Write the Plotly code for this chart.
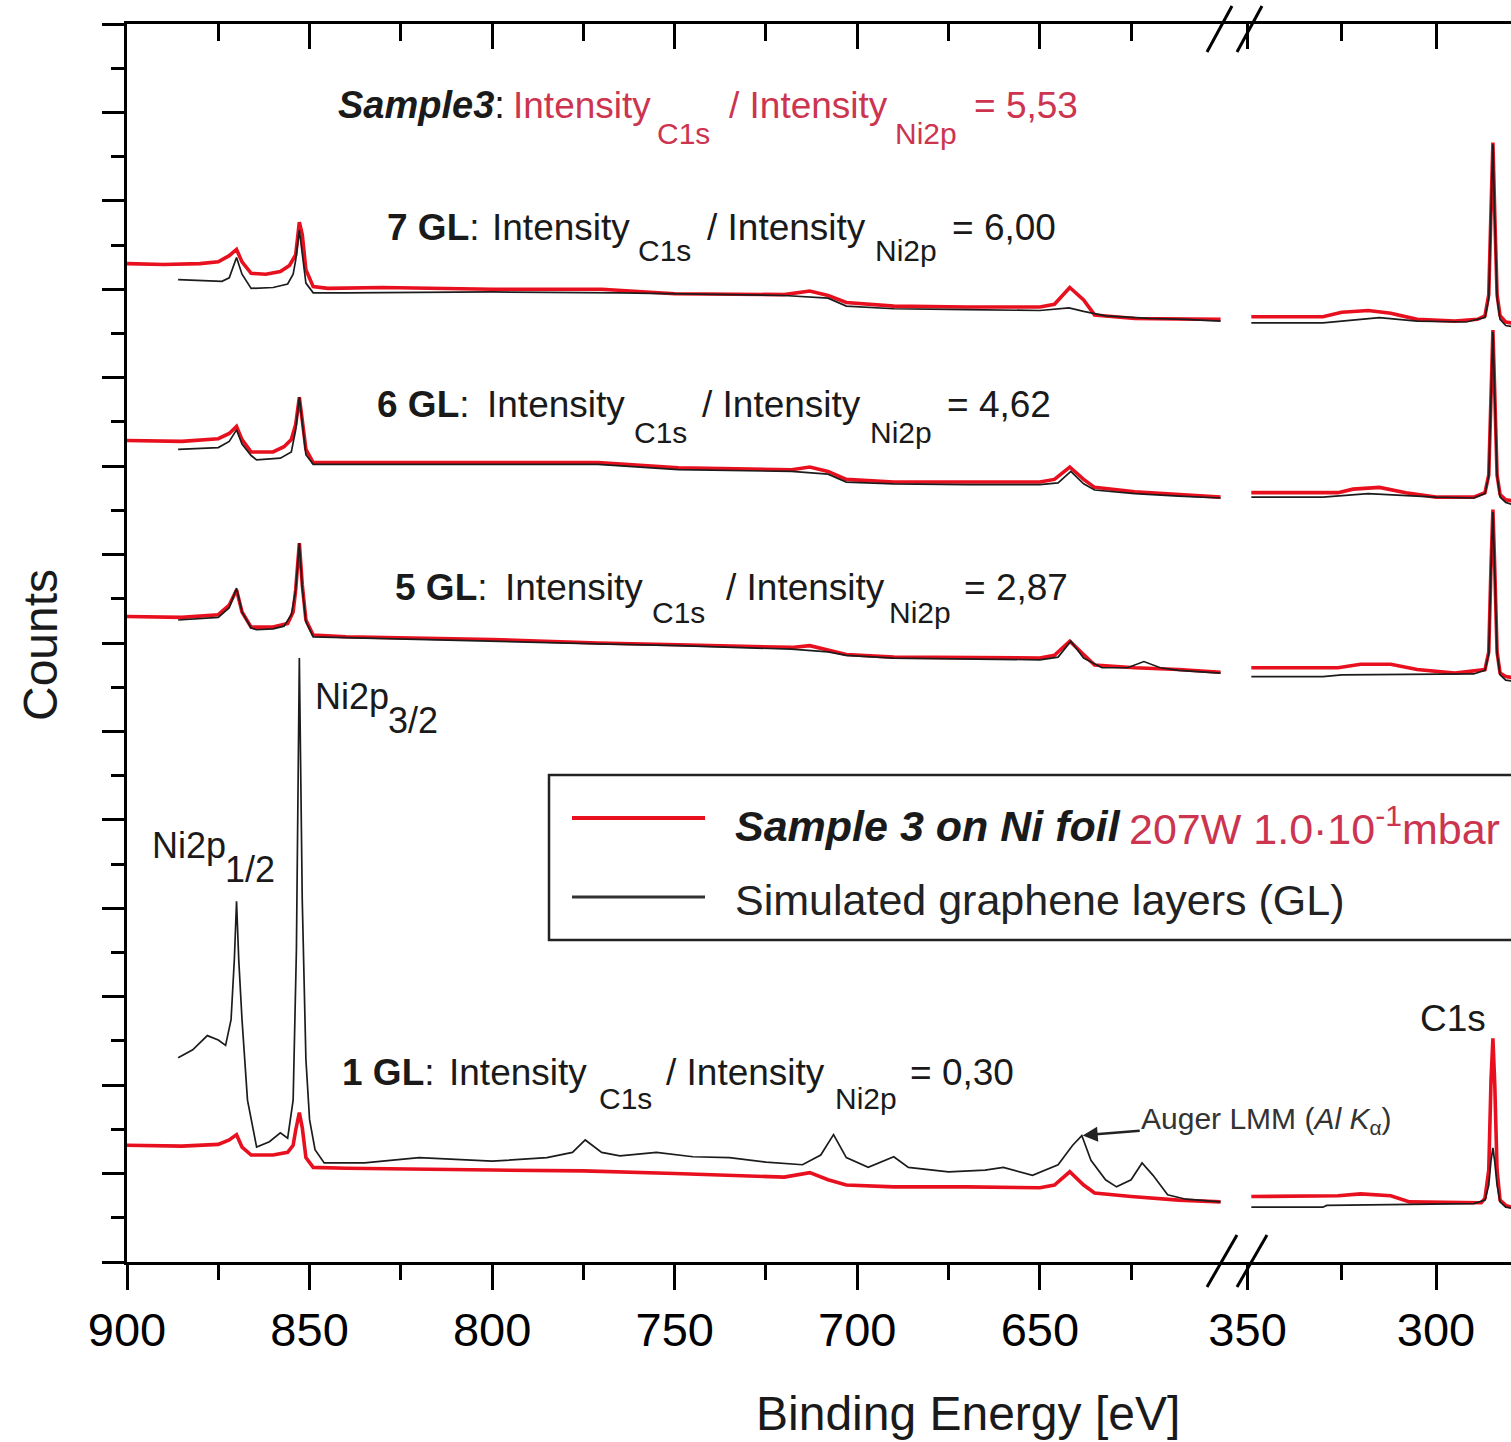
import plotly.graph_objects as go

# ---------------- spectra (binding energy in eV, counts in arb. units, stacked) ----------------
# Ni 2p / Auger window (900-600 eV)
e_7gl_red = [900, 890, 880, 875, 872, 870, 868.5, 866, 862, 858, 855.5, 853.8, 852.8, 852, 851, 849, 845, 830,
             800, 770, 750, 720, 713, 708, 703, 690, 670, 650, 646, 641.8, 638, 635, 624, 612, 600.5]
c_7gl_red = [11.29, 11.28, 11.29, 11.31, 11.38, 11.45, 11.31, 11.18, 11.17, 11.20, 11.27, 11.39, 11.76, 11.62,
             11.22, 11.03, 11.01, 11.02, 11.00, 11.00, 10.95, 10.94, 10.98, 10.93, 10.85, 10.81, 10.80, 10.80,
             10.83, 11.02, 10.88, 10.71, 10.67, 10.66, 10.66]
e_7gl_sim = [886, 880, 874, 872, 870, 868.5, 866, 860, 856, 854.5, 853.8, 852.8, 852, 851, 849, 840, 800, 765,
             720, 708, 703, 690, 670, 650, 642, 638, 632, 620, 610, 600.5]
c_7gl_sim = [11.11, 11.10, 11.09, 11.13, 11.36, 11.17, 11.01, 11.02, 11.06, 11.17, 11.33, 11.67, 11.39, 11.07,
             10.96, 10.96, 10.97, 10.96, 10.93, 10.90, 10.81, 10.78, 10.77, 10.76, 10.79, 10.75, 10.70, 10.67,
             10.66, 10.64]

e_6gl_red = [900, 885, 875, 872, 870, 868.5, 866, 860, 857, 855, 853.8, 852.8, 852, 851, 849, 840, 800, 771,
             749, 718, 713, 708, 703, 690, 670, 650, 646, 641.8, 638, 635, 624, 612, 600.5]
c_6gl_red = [9.29, 9.28, 9.31, 9.37, 9.45, 9.30, 9.16, 9.16, 9.22, 9.30, 9.47, 9.78, 9.52, 9.19, 9.04, 9.04,
             9.04, 9.04, 8.98, 8.96, 8.99, 8.94, 8.85, 8.82, 8.82, 8.82, 8.85, 8.99, 8.85, 8.76, 8.71, 8.68, 8.65]
e_6gl_sim = [886, 875, 872, 870, 868.5, 866, 864.5, 860, 858, 855, 853.8, 852.8, 852, 851, 849, 840, 800, 771,
             749, 718, 708, 703, 690, 670, 650, 645, 641.5, 638, 635, 624, 612, 600.5]
c_6gl_sim = [9.19, 9.21, 9.28, 9.41, 9.25, 9.12, 9.07, 9.08, 9.09, 9.16, 9.41, 9.78, 9.47, 9.13, 9.02, 9.02,
             9.02, 9.02, 8.96, 8.94, 8.91, 8.82, 8.80, 8.79, 8.79, 8.81, 8.94, 8.80, 8.73, 8.69, 8.66, 8.64]

e_5gl_red = [900, 885, 875, 872, 870, 868.5, 866, 860, 856, 854.5, 853.8, 852.8, 852, 851, 849, 840, 800, 771,
             749, 718, 713, 708, 703, 690, 670, 650, 646, 641.8, 638, 635, 624, 612, 600.5]
c_5gl_red = [7.30, 7.29, 7.32, 7.43, 7.60, 7.35, 7.18, 7.18, 7.22, 7.35, 7.60, 8.13, 7.66, 7.26, 7.09, 7.07,
             7.04, 7.00, 6.98, 6.95, 6.97, 6.92, 6.87, 6.84, 6.83, 6.83, 6.86, 7.02, 6.87, 6.75, 6.72, 6.70, 6.67]
e_5gl_sim = [886, 875, 872, 870, 868.5, 866, 864.5, 860, 857, 855, 853.8, 852.8, 852, 851, 849, 840, 800, 771,
             749, 718, 708, 703, 690, 670, 650, 645, 641.5, 638, 633, 626, 621.5, 617, 612, 600.5]
c_5gl_sim = [7.26, 7.29, 7.40, 7.62, 7.35, 7.17, 7.15, 7.16, 7.19, 7.32, 7.60, 8.13, 7.62, 7.24, 7.07, 7.06,
             7.02, 6.99, 6.97, 6.93, 6.90, 6.86, 6.83, 6.82, 6.81, 6.84, 7.02, 6.83, 6.72, 6.72, 6.79, 6.72,
             6.69, 6.66]

e_1gl_red = [900, 885, 875, 872, 870, 868.5, 866, 860, 856, 854.5, 853.8, 852.8, 852, 851, 849, 840, 800, 775,
             750, 720, 713, 708, 703, 690, 670, 650, 646, 641.8, 638, 635, 625, 612, 600.5]
c_1gl_red = [1.32, 1.31, 1.33, 1.38, 1.44, 1.30, 1.21, 1.21, 1.24, 1.32, 1.49, 1.69, 1.52, 1.18, 1.07, 1.06,
             1.04, 1.03, 1.00, 0.96, 1.01, 0.93, 0.87, 0.85, 0.85, 0.84, 0.87, 1.02, 0.87, 0.78, 0.74, 0.70, 0.68]
e_1gl_sim = [886, 882, 878, 875, 873, 871.5, 870.6, 870, 869.4, 868.5, 867, 864.5, 861, 858, 856, 854.5, 853.6,
             852.8, 852, 851, 850, 848.5, 846, 835, 820, 800, 785, 778, 774.5, 770, 765, 755, 745, 735, 725,
             715, 710, 706.5, 703, 697, 690, 686, 675, 665, 660, 652, 645, 641, 638.5, 636, 632, 629, 625, 622,
             619, 615, 610, 600.5]
c_1gl_sim = [2.31, 2.40, 2.56, 2.51, 2.45, 2.74, 3.42, 4.08, 3.42, 2.74, 1.83, 1.30, 1.36, 1.46, 1.40, 1.83,
             3.53, 6.83, 4.09, 2.29, 1.61, 1.27, 1.12, 1.12, 1.18, 1.14, 1.18, 1.24, 1.38, 1.24, 1.20, 1.24,
             1.19, 1.18, 1.13, 1.10, 1.21, 1.44, 1.18, 1.07, 1.19, 1.07, 1.02, 1.04, 1.07, 0.98, 1.10, 1.32,
             1.43, 1.15, 0.93, 0.85, 0.93, 1.12, 0.98, 0.76, 0.71, 0.68]

# C 1s window (350-280 eV)
e_c_7gl_red = [349, 330, 325, 318, 312, 305, 295, 289, 287, 286, 285.4, 284.9, 284.4, 283.8, 283, 281.5, 280]
c_c_7gl_red = [10.69, 10.69, 10.74, 10.76, 10.73, 10.66, 10.64, 10.66, 10.70, 10.94, 11.90, 12.66, 11.84,
               10.94, 10.70, 10.63, 10.62]
e_c_7gl_sim = [349, 330, 325, 315, 305, 292, 287, 286, 285.4, 284.9, 284.4, 283.8, 283, 281.5, 280]
c_c_7gl_sim = [10.62, 10.62, 10.64, 10.68, 10.64, 10.63, 10.68, 10.90, 11.88, 12.64, 11.81, 10.90, 10.66,
               10.59, 10.58]

e_c_6gl_red = [349, 326, 322, 315, 308, 300, 290, 287, 286, 285.4, 284.9, 284.4, 283.8, 283, 281.5, 280]
c_c_6gl_red = [8.70, 8.70, 8.74, 8.76, 8.70, 8.65, 8.65, 8.70, 8.90, 9.86, 10.54, 9.81, 8.90, 8.68, 8.62, 8.61]
e_c_6gl_sim = [349, 330, 318, 300, 290, 287, 286, 285.4, 284.9, 284.4, 283.8, 283, 281.5, 280]
c_c_6gl_sim = [8.65, 8.65, 8.69, 8.65, 8.64, 8.69, 8.89, 9.84, 10.52, 9.78, 8.89, 8.65, 8.59, 8.57]

e_c_5gl_red = [349, 326, 320, 312, 305, 295, 287, 286, 285.4, 284.9, 284.4, 283.8, 283, 281.5, 280]
c_c_5gl_red = [6.72, 6.72, 6.76, 6.76, 6.70, 6.66, 6.70, 6.90, 7.88, 8.51, 7.83, 6.90, 6.66, 6.62, 6.61]
e_c_5gl_sim = [349, 330, 325, 300, 290, 287, 286, 285.4, 284.9, 284.4, 283.8, 283, 281.5, 280]
c_c_5gl_sim = [6.62, 6.62, 6.64, 6.65, 6.65, 6.69, 6.88, 7.86, 8.48, 7.81, 6.88, 6.64, 6.58, 6.57]

e_c_1gl_red = [349, 326, 320, 312, 307, 295, 288, 287, 286, 285.4, 284.9, 284.4, 283.8, 283, 281.5, 280]
c_c_1gl_red = [0.74, 0.75, 0.77, 0.75, 0.68, 0.67, 0.67, 0.72, 1.04, 2.06, 2.53, 2.00, 1.04, 0.70, 0.64, 0.62]
e_c_1gl_sim = [349, 330, 329, 300, 290, 287, 286, 285.4, 284.9, 284.4, 283.8, 283, 281.5, 280]
c_c_1gl_sim = [0.62, 0.62, 0.64, 0.66, 0.66, 0.70, 0.87, 1.15, 1.29, 1.13, 0.87, 0.68, 0.62, 0.61]

# axis ticks
ticks_ni = [900, 850, 800, 750, 700, 650]
minor_ni = [875, 825, 775, 725, 675, 625]
ticks_c = [350, 300]
minor_c = [325]

# ratio annotations
ratio_labels = ["Sample3", "7 GL", "6 GL", "5 GL", "1 GL"]
ratio_values = ["5,53", "6,00", "4,62", "2,87", "0,30"]

# Auger LMM peak of the 1 GL simulation (arrow target)
auger_e, auger_c = 638.8, 1.43

# ---------------- styling ----------------
FONT = "Liberation Sans, Arial, sans-serif"
RED = "#e8101e"
SIM = "#1c1c1c"
CRIMSON = "#cc3450"
INK = "#1a1a1a"

W, H = 1511, 1442
ML, MR, MT, MB = 127, 0, 24, 180
PW, PH = W - ML - MR, H - MT - MB
SPLIT = (1237 - ML) / PW


def to_px(x):
    return (x - ML) / PW


def to_py(y):
    return (H - MB - y) / PH


fig = go.Figure()

pairs = [
    (e_7gl_red, c_7gl_red, e_7gl_sim, c_7gl_sim, e_c_7gl_red, c_c_7gl_red, e_c_7gl_sim, c_c_7gl_sim),
    (e_6gl_red, c_6gl_red, e_6gl_sim, c_6gl_sim, e_c_6gl_red, c_c_6gl_red, e_c_6gl_sim, c_c_6gl_sim),
    (e_5gl_red, c_5gl_red, e_5gl_sim, c_5gl_sim, e_c_5gl_red, c_c_5gl_red, e_c_5gl_sim, c_c_5gl_sim),
    (e_1gl_red, c_1gl_red, e_1gl_sim, c_1gl_sim, e_c_1gl_red, c_c_1gl_red, e_c_1gl_sim, c_c_1gl_sim),
]

for er, cr, es, cs, ecr, ccr, ecs, ccs in pairs:
    fig.add_trace(go.Scatter(x=er, y=cr, xaxis="x", yaxis="y", mode="lines",
                             line=dict(color=RED, width=3.6), showlegend=False, hoverinfo="skip"))
    fig.add_trace(go.Scatter(x=ecr, y=ccr, xaxis="x2", yaxis="y", mode="lines",
                             line=dict(color=RED, width=3.6), showlegend=False, hoverinfo="skip"))
    fig.add_trace(go.Scatter(x=es, y=cs, xaxis="x", yaxis="y", mode="lines",
                             line=dict(color=SIM, width=1.7), showlegend=False, hoverinfo="skip"))
    fig.add_trace(go.Scatter(x=ecs, y=ccs, xaxis="x2", yaxis="y", mode="lines",
                             line=dict(color=SIM, width=1.7), showlegend=False, hoverinfo="skip"))

# placeholders so the top (mirror) axes are drawn
for xa, xv in (("x3", 900), ("x4", 340)):
    fig.add_trace(go.Scatter(x=[xv], y=[-5], xaxis=xa, yaxis="y", mode="markers",
                             marker=dict(opacity=0), showlegend=False, hoverinfo="skip"))

tickfont = dict(family=FONT, size=47, color="black")
common_x = dict(showgrid=False, zeroline=False, showline=True, linecolor="black", linewidth=3,
                ticks="outside", ticklen=25, tickwidth=3, tickcolor="black", tickfont=tickfont,
                ticklabelstandoff=0, fixedrange=True)
top_x = dict(side="top", anchor="y", showgrid=False, zeroline=False, showline=True, linecolor="black",
             linewidth=3, ticks="inside", ticklen=25, tickwidth=3, tickcolor="black",
             showticklabels=False, tickmode="array", fixedrange=True)

fig.update_layout(
    width=W, height=H,
    margin=dict(l=ML, r=MR, t=MT, b=MB),
    paper_bgcolor="white", plot_bgcolor="white",
    xaxis=dict(domain=[0, SPLIT], range=[900, 596], anchor="y", tickmode="array",
               tickvals=ticks_ni, ticktext=[str(v) for v in ticks_ni],
               minor=dict(tickmode="array", tickvals=minor_ni, ticks="outside", ticklen=15,
                          tickwidth=3, tickcolor="black", showgrid=False),
               **common_x),
    xaxis2=dict(domain=[SPLIT, 1], range=[352.8, 280.1], anchor="y", tickmode="array",
                tickvals=ticks_c, ticktext=[str(v) for v in ticks_c],
                minor=dict(tickmode="array", tickvals=minor_c, ticks="outside", ticklen=15,
                           tickwidth=3, tickcolor="black", showgrid=False),
                **common_x),
    xaxis3=dict(overlaying="x", range=[900, 596], tickvals=ticks_ni,
                minor=dict(tickmode="array", tickvals=minor_ni, ticks="inside", ticklen=17,
                           tickwidth=3, tickcolor="black", showgrid=False),
                **top_x),
    xaxis4=dict(overlaying="x2", range=[352.8, 280.1], tickvals=ticks_c,
                minor=dict(tickmode="array", tickvals=minor_c, ticks="inside", ticklen=17,
                           tickwidth=3, tickcolor="black", showgrid=False),
                **top_x),
    yaxis=dict(domain=[0, 1], range=[0, 14], anchor="x", showgrid=False, zeroline=False,
               showline=True, linecolor="black", linewidth=3, ticks="outside", ticklen=22,
               tickwidth=3, tickcolor="black", tick0=0, dtick=1, showticklabels=False,
               minor=dict(dtick=0.5, tick0=0, ticks="outside", ticklen=13, tickwidth=3,
                          tickcolor="black", showgrid=False),
               fixedrange=True),
)

shapes = []
# axis-break marks on the top and bottom axes
for x0, y0, x1, y1 in [(1207, 52, 1232, 6), (1237, 52, 1262, 6),
                       (1207, 1287, 1237, 1235), (1237, 1287, 1267, 1235)]:
    shapes.append(dict(type="line", xref="paper", yref="paper", x0=to_px(x0), y0=to_py(y0),
                       x1=to_px(x1), y1=to_py(y1), line=dict(color="black", width=3)))
# legend frame and keys
shapes.append(dict(type="rect", xref="paper", yref="paper", x0=to_px(549), x1=to_px(1570),
                   y0=to_py(940), y1=to_py(775), line=dict(color="#222", width=2.5),
                   fillcolor="white", layer="below"))
shapes.append(dict(type="line", xref="paper", yref="paper", x0=to_px(572), x1=to_px(705),
                   y0=to_py(818), y1=to_py(818), line=dict(color=RED, width=4)))
shapes.append(dict(type="line", xref="paper", yref="paper", x0=to_px(572), x1=to_px(705),
                   y0=to_py(897), y1=to_py(897), line=dict(color="#333", width=3)))

ann = []


def text(x, y, s, size=37, color=INK, anchor="left", **kw):
    ann.append(dict(xref="paper", yref="paper", x=to_px(x), y=to_py(y), text=s, showarrow=False,
                    xanchor=anchor, yanchor="middle",
                    font=dict(family=FONT, size=size, color=color), **kw))


# ratio lines: (label x, Intensity x, C1s x, slash x, Ni2p x, '=' x, main y, subscript y)
rows = [
    (336, 511, 655, 727, 893, 972, 105, 133),
    (385, 490, 636, 705, 873, 950, 228, 250),
    (375, 485, 632, 700, 868, 945, 405, 432),
    (393, 503, 650, 724, 887, 962, 587, 612),
    (340, 447, 597, 664, 833, 908, 1072, 1098),
]
for i, (lab, val, r) in enumerate(zip(ratio_labels, ratio_values, rows)):
    xl, xi, xc, xs, xn, xe, ym, ys = r
    col = CRIMSON if i == 0 else INK
    if i == 0:
        text(xl, ym, f"<b><i>{lab}</i></b>:", size=38, color=INK)
    else:
        text(xl, ym, f"<b>{lab}</b>:", color=INK)
    text(xi, ym, "Intensity", color=col)
    text(xc, ys, "C1s", size=30, color=col)
    text(xs, ym, "/ Intensity", color=col)
    text(xn, ys, "Ni2p", size=30, color=col)
    text(xe, ym, f"= {val}", color=col)

# peak labels
text(313, 697, "Ni2p", size=36)
text(386, 720, "3/2", size=36)
text(150, 845, "Ni2p", size=36)
text(223, 870, "1/2", size=36)
text(1418, 1018, "C1s", size=37)

# Auger label with its arrow pointing at the simulated 1 GL Auger peak
ann.append(dict(xref="x", yref="y", x=auger_e, y=auger_c, ax=186, ay=-15,
                text="Auger LMM (<i>Al K</i><sub>α</sub>)", showarrow=True, xanchor="center",
                yanchor="middle", arrowhead=2, arrowsize=1.2, arrowwidth=2.5, arrowcolor="#222",
                standoff=2, font=dict(family=FONT, size=30, color="#333")))

# legend text
text(733, 826, "<b><i>Sample 3 on Ni foil</i></b>", size=43, color=INK)
text(1127, 826, "207W 1.0·10<sup>-1</sup>mbar", size=43, color=CRIMSON)
text(733, 900, "Simulated graphene layers (GL)", size=43, color="#222")

# axis titles
text(968, 1413, "Binding Energy [eV]", size=48, color=INK, anchor="center")
text(40, 645, "Counts", size=48, color=INK, anchor="center", textangle=-90)

fig.update_layout(shapes=shapes, annotations=ann)

fig.write_html("out.html")
